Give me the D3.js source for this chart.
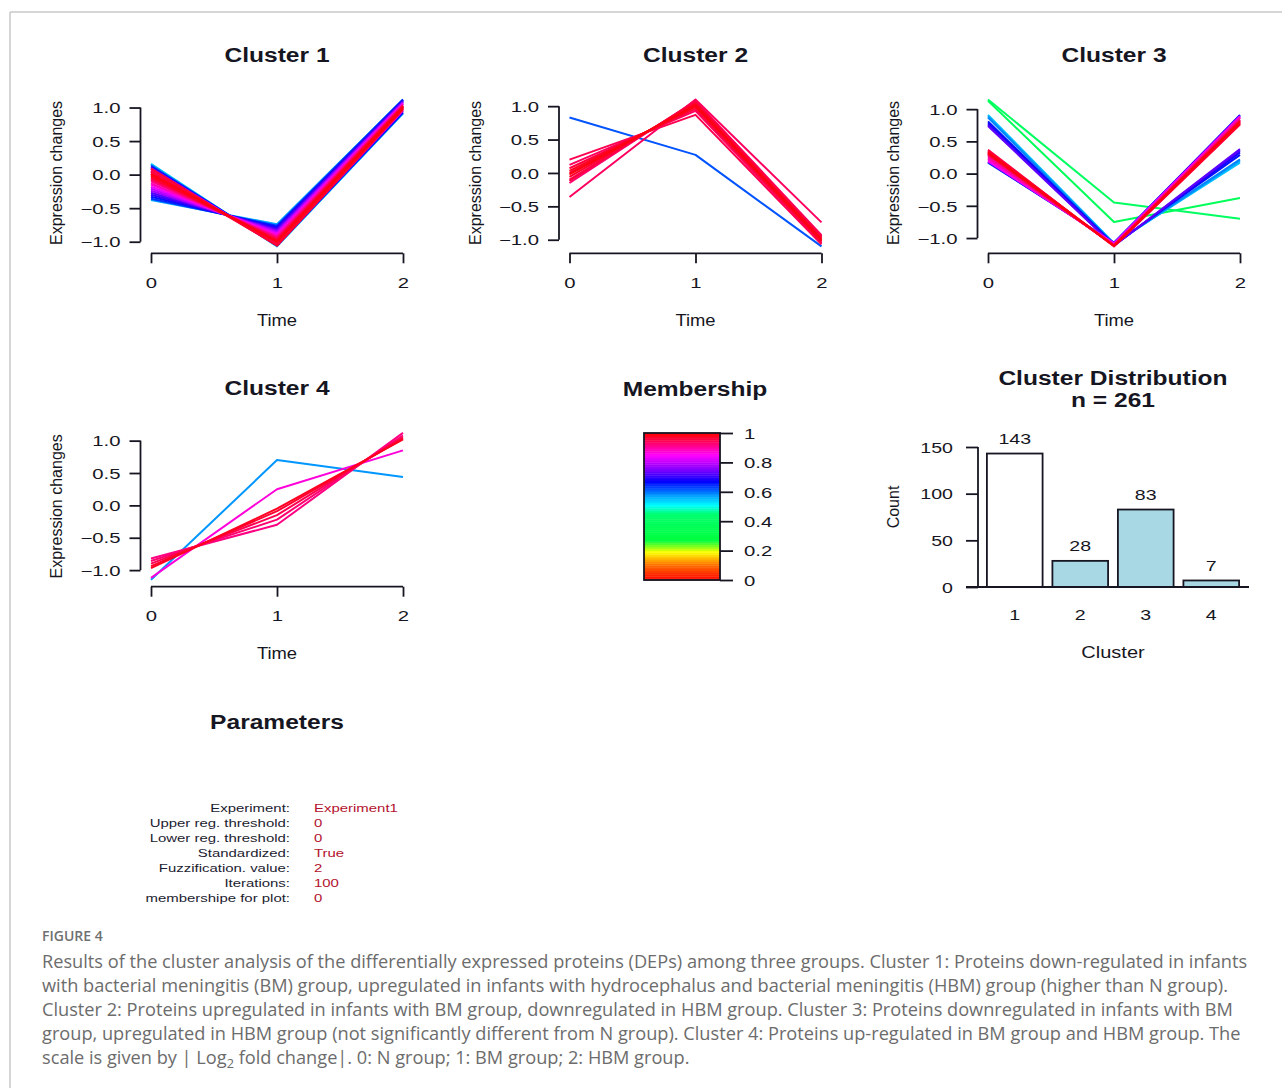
<!DOCTYPE html>
<html><head><meta charset="utf-8">
<script src="https://cdn.jsdelivr.net/npm/d3@7"></script>
<style>html,body{margin:0;padding:0;background:#fff;} svg{display:block}</style>
</head><body>
<svg id="fig" width="1282" height="1088"></svg>
<script>
// ---------------- DATA ----------------
const timePoints = [0, 1, 2];
const yTicks = [-1, -0.5, 0, 0.5, 1];
// each profile: [membership, value at time 0, time 1, time 2]
const cluster1Profiles = [
  [0.55, 0.16, -1.07, 0.91], [0.57, -0.38, -0.74, 1.12], [0.62, 0.14, -1.06, 0.92],
  [0.64, -0.36, -0.76, 1.12], [0.66, -0.33, -0.78, 1.11], [0.68, 0.12, -1.05, 0.93],
  [0.70, -0.30, -0.80, 1.10], [0.72, -0.27, -0.82, 1.09], [0.75, 0.10, -1.05, 0.95],
  [0.77, -0.24, -0.84, 1.08], [0.80, -0.21, -0.86, 1.07], [0.83, -0.18, -0.88, 1.06],
  [0.85, 0.08, -1.04, 0.96], [0.87, -0.15, -0.90, 1.05], [0.89, -0.13, -0.92, 1.05],
  [0.90, 0.06, -1.04, 0.98], [0.91, -0.10, -0.93, 1.03], [0.92, 0.04, -1.03, 0.99],
  [0.93, -0.08, -0.95, 1.03], [0.94, 0.02, -1.02, 1.00], [0.95, -0.06, -0.96, 1.02],
  [0.96, 0.00, -1.01, 1.01], [0.97, -0.04, -0.98, 1.02], [0.98, -0.02, -0.99, 1.01],
  [0.99, 0.01, -1.00, 0.99], [0.97, 0.09, -1.06, 0.97], [0.96, 0.05, -1.05, 1.00]
];
const cluster2Profiles = [
  [0.62, 0.83, 0.27, -1.10], [0.94, -0.36, 1.10, -0.74], [0.95, 0.20, 0.87, -1.07],
  [0.93, -0.15, 1.08, -0.93], [0.94, 0.12, 0.93, -1.05], [0.95, -0.10, 1.06, -0.96],
  [0.96, 0.07, 0.96, -1.03], [0.97, -0.06, 1.04, -0.98], [0.98, 0.03, 0.99, -1.02],
  [0.99, -0.02, 1.02, -1.00], [0.97, 0.00, 1.00, -1.00], [0.96, -0.12, 1.07, -0.95]
];
const cluster3Profiles = [
  [0.37, 1.13, -0.75, -0.38], [0.40, 1.15, -0.45, -0.70], [0.55, 0.91, -1.08, 0.17],
  [0.57, 0.89, -1.09, 0.20], [0.59, 0.87, -1.09, 0.22], [0.63, 0.17, -1.07, 0.90],
  [0.66, 0.81, -1.10, 0.29], [0.68, 0.78, -1.11, 0.33], [0.69, 0.18, -1.08, 0.91],
  [0.71, 0.76, -1.12, 0.36], [0.73, 0.74, -1.12, 0.38], [0.82, 0.19, -1.08, 0.89],
  [0.86, 0.21, -1.09, 0.88], [0.88, 0.23, -1.10, 0.87], [0.90, 0.25, -1.11, 0.86],
  [0.91, 0.27, -1.11, 0.84], [0.92, 0.29, -1.12, 0.83], [0.93, 0.31, -1.12, 0.81],
  [0.94, 0.33, -1.12, 0.79], [0.95, 0.35, -1.12, 0.77], [0.96, 0.37, -1.13, 0.76],
  [0.97, 0.30, -1.12, 0.82], [0.98, 0.34, -1.12, 0.78], [0.99, 0.32, -1.12, 0.80]
];
const cluster4Profiles = [
  [0.58, -1.15, 0.70, 0.44], [0.87, -1.12, 0.25, 0.85], [0.92, -0.82, -0.30, 1.12],
  [0.93, -0.86, -0.22, 1.08], [0.95, -0.90, -0.15, 1.05], [0.97, -0.94, -0.09, 1.03],
  [0.98, -0.97, -0.05, 1.02]
];
const membershipStops  = [0, 0.1, 0.19, 0.27, 0.45, 0.51, 0.58, 0.67, 0.76, 0.85, 0.93, 1];
const membershipColors = ['#ff0000','#ff6a00','#ffff00','#00ff3c','#00ff6e','#00ffff','#0096ff','#0000ff','#8c00ff','#ff00ff','#ff0070','#ff0000'];
const membershipTicks  = [0, 0.2, 0.4, 0.6, 0.8, 1];
const clusterIds    = [1, 2, 3, 4];
const clusterCounts = [143, 28, 83, 7];
const barColors     = ['#ffffff', '#a8d8e4', '#a8d8e4', '#a8d8e4'];
const countTicks    = [0, 50, 100, 150];
const paramLabels = ['Experiment:', 'Upper reg. threshold:', 'Lower reg. threshold:', 'Standardized:',
                     'Fuzzification. value:', 'Iterations:', 'Min. membershipe for plot:'];
const paramValues = ['Experiment1', '0', '0', 'True', '2', '100', '0'];
const captionLines = [
  'Results of the cluster analysis of the differentially expressed proteins (DEPs) among three groups. Cluster 1: Proteins down-regulated in infants',
  'with bacterial meningitis (BM) group, upregulated in infants with hydrocephalus and bacterial meningitis (HBM) group (higher than N group).',
  'Cluster 2: Proteins upregulated in infants with BM group, downregulated in HBM group. Cluster 3: Proteins downregulated in infants with BM',
  'group, upregulated in HBM group (not significantly different from N group). Cluster 4: Proteins up-regulated in BM group and HBM group. The'
];

// ---------------- DRAWING ----------------
const svg = d3.select('#fig');
const FONT = "'Liberation Sans', Arial, Helvetica, sans-serif";
const INK = '#161622';
const memColor = d3.scaleLinear().domain(membershipStops).range(membershipColors).interpolate(d3.interpolateRgb);

function label(parent, x, y, s, o) {
  o = Object.assign({size: 14, weight: 'normal', anchor: 'middle', sx: 1.3, fill: INK, rotate: 0}, o || {});
  return parent.append('text')
    .attr('transform', `translate(${x},${y})` + (o.rotate ? ` rotate(${o.rotate})` : '') + ` scale(${o.sx},1)`)
    .attr('text-anchor', o.anchor).attr('dy', '0.36em')
    .style('font-family', FONT).style('font-size', o.size + 'px').style('font-weight', o.weight)
    .attr('fill', o.fill).text(s);
}
function styleTicks(sel, tf, anchor) {
  sel.selectAll('.tick line').attr('stroke', INK).attr('stroke-width', 1.8);
  sel.selectAll('.tick text').attr('x', 0).attr('y', 0).attr('dy', '0.36em')
    .attr('transform', tf).attr('text-anchor', anchor).attr('fill', INK)
    .style('font-family', FONT).style('font-size', '14.5px');
}

// frame
svg.append('line').attr('x1', 10).attr('y1', 12).attr('x2', 1282).attr('y2', 12).attr('stroke', '#c8c8c8').attr('stroke-width', 1.5);
svg.append('line').attr('x1', 10).attr('y1', 12).attr('x2', 10).attr('y2', 1088).attr('stroke', '#c8c8c8').attr('stroke-width', 1.5);

const panels = [
  {title: 'Cluster 1', data: cluster1Profiles, col: 0, row: 0},
  {title: 'Cluster 2', data: cluster2Profiles, col: 1, row: 0},
  {title: 'Cluster 3', data: cluster3Profiles, col: 2, row: 0},
  {title: 'Cluster 4', data: cluster4Profiles, col: 0, row: 1}
];
const colX0 = [151, 569.5, 988];
const rowOff = [0, 333.4];
const XW = 252, REG_TOP = 93.6, REG_BOT = 252.3;

panels.forEach(p => {
  const off = rowOff[p.row], x0 = colX0[p.col];
  const g = svg.append('g');
  const x = d3.scaleLinear().domain([0, 2]).range([x0, x0 + XW]);
  const all = p.data.flatMap(d => d.slice(1));
  const [mn, mx] = d3.extent(all); const pad = 0.04 * (mx - mn);
  const y = d3.scaleLinear().domain([mn - pad, mx + pad]).range([REG_BOT + off, REG_TOP + off]);
  const line = d3.line().x((v, i) => x(timePoints[i])).y(v => y(v));
  const sorted = p.data.slice().sort((a, b) => a[0] - b[0]);
  g.selectAll('path.profile').data(sorted).join('path').attr('class', 'profile')
    .attr('d', d => line(d.slice(1))).attr('fill', 'none')
    .attr('stroke', d => memColor(d[0])).attr('stroke-width', 2).attr('stroke-linejoin', 'round');

  const ax = x0 - 10.5;
  const ga = g.append('g').attr('transform', `translate(${ax},0)`)
    .call(d3.axisLeft(y).tickValues(yTicks).tickFormat(d3.format('.1f')).tickSize(11).tickSizeOuter(0));
  ga.select('.domain').remove();
  ga.append('line').attr('y1', y(yTicks[0])).attr('y2', y(yTicks[yTicks.length - 1])).attr('stroke', INK).attr('stroke-width', 1.8);
  styleTicks(ga, 'translate(-20,0) scale(1.4,1)', 'end');

  const axY = REG_BOT + 1 + off;
  const gx = g.append('g').attr('transform', `translate(0,${axY})`)
    .call(d3.axisBottom(x).tickValues(timePoints).tickFormat(d3.format('d')).tickSize(10).tickSizeOuter(0));
  gx.select('.domain').remove();
  gx.append('line').attr('x1', x(0)).attr('x2', x(2)).attr('stroke', INK).attr('stroke-width', 1.8);
  styleTicks(gx, 'translate(0,29.4) scale(1.4,1)', 'middle');

  label(svg, x(1), 54 + off, p.title, {size: 21, weight: 'bold', sx: 1.17});
  label(svg, x(1), 320 + off, 'Time', {size: 16, sx: 1.15});
  label(svg, ax - 84, (REG_TOP + REG_BOT) / 2 + off, 'Expression changes', {size: 16, sx: 1, rotate: -90});
});

// ---- Membership colour bar ----
(function () {
  const g = svg.append('g');
  label(g, 695, 388, 'Membership', {size: 21, weight: 'bold', sx: 1.17});
  const m = d3.scaleLinear().domain([0, 1]).range([580, 433]);
  const bands = d3.range(0, 1, 0.0125);
  g.selectAll('rect.band').data(bands).join('rect').attr('class', 'band')
    .attr('x', 644).attr('width', 76).attr('y', d => m(d + 0.0125)).attr('height', d => m(d) - m(d + 0.0125) + 0.4)
    .attr('fill', d => memColor(d + 0.00625));
  g.append('rect').attr('x', 644).attr('y', m(1)).attr('width', 76).attr('height', m(0) - m(1))
    .attr('fill', 'none').attr('stroke', INK).attr('stroke-width', 1.8);
  const ga = g.append('g').attr('transform', 'translate(720,0)')
    .call(d3.axisRight(m).tickValues(membershipTicks).tickFormat(d => String(d)).tickSize(13).tickSizeOuter(0));
  ga.select('.domain').remove();
  styleTicks(ga, 'translate(24,0) scale(1.4,1)', 'start');
})();

// ---- Cluster distribution bar chart ----
(function () {
  const g = svg.append('g');
  const xb = d3.scaleBand().domain(clusterIds).range([982, 1244]).paddingInner(0.15).paddingOuter(0.075);
  const yb = d3.scaleLinear().domain([0, 150]).range([587, 447]);
  const rows = clusterIds.map((c, i) => ({c, n: clusterCounts[i], fill: barColors[i]}));
  g.selectAll('rect.bar').data(rows).join('rect').attr('class', 'bar')
    .attr('x', d => xb(d.c)).attr('width', xb.bandwidth())
    .attr('y', d => yb(d.n)).attr('height', d => yb(0) - yb(d.n))
    .attr('fill', d => d.fill).attr('stroke', INK).attr('stroke-width', 1.8);
  g.append('line').attr('x1', 966).attr('x2', 1249).attr('y1', yb(0)).attr('y2', yb(0)).attr('stroke', INK).attr('stroke-width', 1.8);
  const ga = g.append('g').attr('transform', 'translate(978,0)')
    .call(d3.axisLeft(yb).tickValues(countTicks).tickFormat(d3.format('d')).tickSize(12).tickSizeOuter(0));
  ga.select('.domain').remove();
  ga.append('line').attr('y1', yb(0)).attr('y2', yb(150)).attr('stroke', INK).attr('stroke-width', 1.8);
  styleTicks(ga, 'translate(-25,0) scale(1.35,1)', 'end');
  const gx = g.append('g').attr('transform', `translate(0,${yb(0)})`)
    .call(d3.axisBottom(xb).tickSize(0));
  gx.select('.domain').remove();
  styleTicks(gx, 'translate(0,28) scale(1.35,1)', 'middle');
  rows.forEach(d => label(g, xb(d.c) + xb.bandwidth() / 2, yb(d.n) - 15, String(d.n), {size: 14.5, sx: 1.35}));
  label(g, 1113, 377, 'Cluster Distribution', {size: 21, weight: 'bold', sx: 1.17});
  label(g, 1113, 399, 'n = ' + d3.sum(clusterCounts), {size: 21, weight: 'bold', sx: 1.17});
  label(g, 1113, 652, 'Cluster', {size: 16, sx: 1.25});
  label(g, 893, 507, 'Count', {size: 16, sx: 1, rotate: -90});
})();

// ---- Parameters ----
(function () {
  const g = svg.append('g');
  label(g, 277, 721, 'Parameters', {size: 21, weight: 'bold', sx: 1.17});
  svg.append('clipPath').attr('id', 'pclip').append('rect').attr('x', 142).attr('y', 780).attr('width', 400).attr('height', 140);
  const gt = g.append('g').attr('clip-path', 'url(#pclip)');
  paramLabels.forEach((s, i) => {
    label(gt, 290, 808 + 15 * i, s, {size: 11.5, sx: 1.3, anchor: 'end', fill: '#1c1c30'});
    label(gt, 314, 808 + 15 * i, paramValues[i], {size: 11.5, sx: 1.3, anchor: 'start', fill: '#b3122e'});
  });
})();

// ---- Caption ----
(function () {
  const g = svg.append('g');
  g.append('text').attr('x', 42).attr('y', 941).attr('fill', '#707070')
    .style('font-family', "'Open Sans', sans-serif").style('font-size', '14px').style('font-weight', 600).text('FIGURE 4');
  const cap = g.append('g').style('font-family', "'Open Sans', sans-serif").attr('fill', '#6c6c6c');
  const texts = captionLines.map((s, i) => cap.append('text').attr('x', 42).attr('y', 968 + 24 * i).style('font-size', '16px').text(s));
  const last = cap.append('text').attr('x', 42).attr('y', 968 + 24 * 4).style('font-size', '16px');
  last.append('tspan').text('scale is given by | Log');
  last.append('tspan').attr('dy', 4).style('font-size', '11px').text('2');
  last.append('tspan').attr('dy', -4).text(' fold change|. 0: N group; 1: BM group; 2: HBM group.');
  const w = texts[0].node().getComputedTextLength();
  const fs = 16 * 1206 / w;
  texts.forEach(t => t.style('font-size', fs + 'px'));
  last.style('font-size', fs + 'px');
  last.selectAll('tspan').filter((d, i) => i === 1).style('font-size', (fs * 0.7) + 'px');
})();
</script>
</body></html>
